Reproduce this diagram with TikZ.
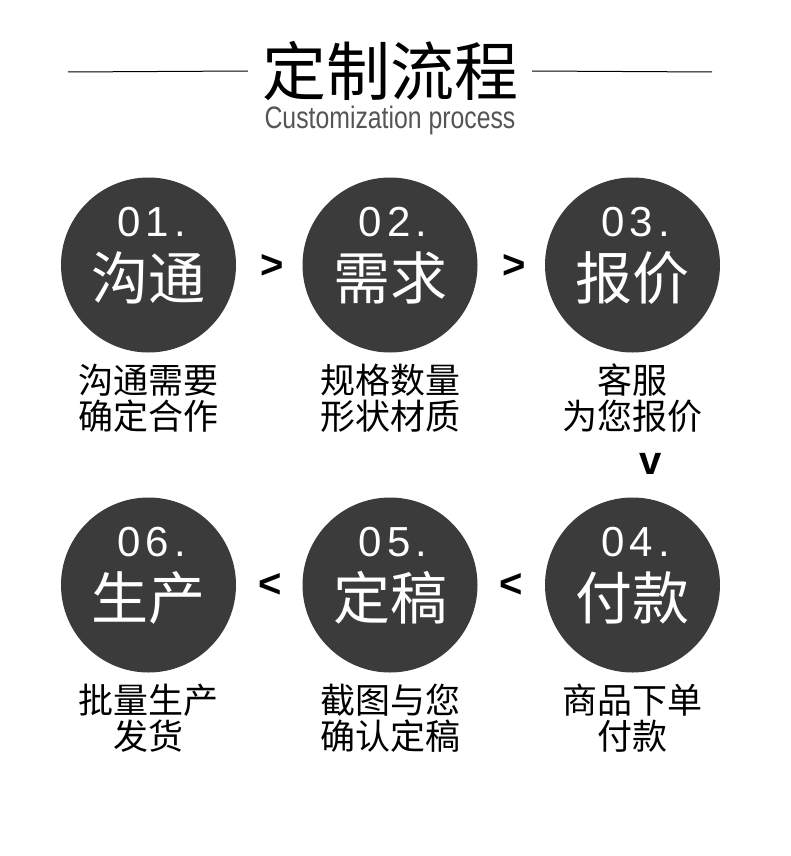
\documentclass[tikz,border=0pt]{standalone}
\usepackage{fontspec}
\setmainfont{Noto Sans CJK SC}
\newfontfamily\latinfont{Liberation Sans}
\newfontfamily\spacedfont[LetterSpace=12]{Liberation Sans}
\newfontfamily\narrowfont[FakeStretch=0.8]{Liberation Sans}
\definecolor{disc}{HTML}{3B3B3B}
\definecolor{subgray}{HTML}{555555}
\begin{document}
\begin{tikzpicture}[x=1pt, y=-1pt,
    stage/.style={circle, fill=disc, minimum size=175pt, inner sep=0pt},
    num/.style={text=white, inner sep=0pt, font=\spacedfont\fontsize{42}{42}\selectfont},
    word/.style={text=white, inner sep=0pt, font=\fontsize{57}{57}\selectfont},
    capt/.style={text=black, inner sep=0pt, align=center, font=\fontsize{35}{36}\selectfont},
    sign/.style={inner sep=0pt, font=\latinfont\bfseries\fontsize{40}{40}\selectfont}
]
\useasboundingbox (0,0) rectangle (790,856);

% title
\node[inner sep=0pt, font=\fontsize{64}{64}\selectfont] (title) at (390,71) {定制流程};
\node[inner sep=0pt, text=subgray, font=\narrowfont\fontsize{31}{31}\selectfont] (sub) at (390,120) {Customization process};
\coordinate (la) at (68,72);
\coordinate (rb) at (712,72);
\draw[line width=1pt] (la) -- ([xshift=-14pt]title.west);
\draw[line width=1pt] ([xshift=14pt]title.east) -- (rb);

% stages
\foreach \i/\x/\y/\n/\w/\c in {
    1/148.5/265/01./沟通/沟通需要\\确定合作,
    2/390/265/02./需求/规格数量\\形状材质,
    3/632.5/265/03./报价/客服\\为您报价,
    4/632.5/585/04./付款/商品下单\\付款,
    5/390/585/05./定稿/截图与您\\确认定稿,
    6/148.5/585/06./生产/批量生产\\发货}{
  \node[stage] (s\i) at (\x,\y) {};
  \node[num] (n\i) at ([xshift=3pt,yshift=43pt]s\i.center) {\n};
  \node[word] (w\i) at ([yshift=-13pt]s\i.center) {\w};
  \node[capt] (c\i) at ([yshift=-133.5pt]s\i.center) {\c};
}

% order marks
\node[sign] (g12) at (272,266) {>};
\node[sign] (g23) at (514,266) {>};
\node[sign] (g34) at (651,464) {v};
\node[sign] (g45) at (511,585) {<};
\node[sign] (g56) at (270,585) {<};
\end{tikzpicture}
\end{document}
